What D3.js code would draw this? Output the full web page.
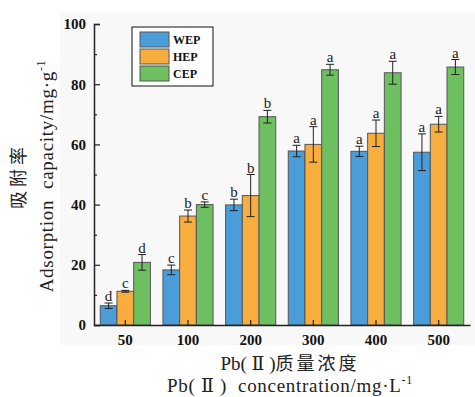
<!DOCTYPE html>
<html>
<head>
<meta charset="utf-8">
<script src="https://cdn.jsdelivr.net/npm/d3@7"></script>
<style>
  body { margin: 0; background: #fff; }
  svg { display: block; }
</style>
</head>
<body>
<div id="chart"></div>
<script>
// concentrations (mg/L)
const groups = ["50", "100", "200", "300", "400", "500"];
const series = ["WEP", "HEP", "CEP"];
const colors = ["#4a9dd8", "#f8ae3f", "#6dbf5f"];

const wepVal = [6.4, 18.3, 39.9, 57.8, 57.7, 57.4];
const hepVal = [11.2, 36.2, 43.0, 60.0, 63.7, 66.7];
const cepVal = [20.8, 40.0, 69.2, 84.8, 83.8, 85.7];

const wepErr = [0.9, 1.6, 1.9, 1.9, 1.7, 6.1];
const hepErr = [0.3, 2.0, 7.0, 5.9, 4.4, 2.6];
const cepErr = [2.6, 0.9, 2.1, 1.8, 3.8, 2.5];

const wepSig = ["d", "c", "b", "a", "a", "a"];
const hepSig = ["c", "b", "b", "a", "a", "a"];
const cepSig = ["d", "c", "b", "a", "a", "a"];

const yTicks = [0, 20, 40, 60, 80, 100];

const vals = [wepVal, hepVal, cepVal];
const errs = [wepErr, hepErr, cepErr];
const sigs = [wepSig, hepSig, cepSig];

const rows = [];
groups.forEach((g, gi) => series.forEach((s, si) => {
  rows.push({group: g, series: s, si, value: vals[si][gi], err: errs[si][gi], sig: sigs[si][gi]});
}));

const width = 475, height = 397;
const serif = "'Liberation Serif', 'DejaVu Serif', serif";
const cjk = "'Noto Sans CJK SC', sans-serif";

const svg = d3.select("#chart").append("svg")
  .attr("width", width).attr("height", height);

// light panel behind plot
svg.append("rect")
  .attr("x", 60).attr("y", 12).attr("width", 415).attr("height", 333)
  .attr("fill", "#f8f8f8");

const x = d3.scaleBand().domain(groups).range([94, 470]).paddingInner(0.2).paddingOuter(0.1);
const xs = d3.scaleBand().domain(series).range([0, x.bandwidth()]);
const y = d3.scaleLinear().domain([0, 100]).range([325, 24]);

// bars
const g = svg.append("g");
g.selectAll("rect.bar")
  .data(rows)
  .join("rect")
    .attr("class", "bar")
    .attr("x", d => x(d.group) + xs(d.series))
    .attr("y", d => y(d.value))
    .attr("width", xs.bandwidth())
    .attr("height", d => y(0) - y(d.value))
    .attr("fill", d => colors[d.si])
    .attr("stroke", "#555")
    .attr("stroke-width", 1);

// error bars
const eb = g.selectAll("g.err")
  .data(rows)
  .join("g")
    .attr("class", "err")
    .attr("transform", d => `translate(${x(d.group) + xs(d.series) + xs.bandwidth() / 2},0)`)
    .attr("stroke", "#222")
    .attr("stroke-width", 1);
eb.append("line")
  .attr("y1", d => y(d.value + d.err)).attr("y2", d => y(d.value - d.err));
eb.append("line")
  .attr("x1", -4).attr("x2", 4)
  .attr("y1", d => y(d.value + d.err)).attr("y2", d => y(d.value + d.err));
eb.append("line")
  .attr("x1", -4).attr("x2", 4)
  .attr("y1", d => y(d.value - d.err)).attr("y2", d => y(d.value - d.err));

// significance letters
g.selectAll("text.sig")
  .data(rows)
  .join("text")
    .attr("class", "sig")
    .attr("x", d => x(d.group) + xs(d.series) + xs.bandwidth() / 2)
    .attr("y", d => y(d.value + d.err) - 2)
    .attr("text-anchor", "middle")
    .attr("font-family", serif)
    .attr("font-size", 15)
    .attr("fill", "#222")
    .text(d => d.sig);

// axes
const yAxis = svg.append("g")
  .attr("transform", `translate(94,0)`)
  .call(d3.axisLeft(y).tickValues(yTicks).tickSize(-6).tickPadding(8));
svg.append("g")
  .attr("transform", `translate(94,0)`)
  .call(d3.axisLeft(y).tickValues([10, 30, 50, 70, 90]).tickSize(-3).tickFormat(""))
  .call(s => s.select(".domain").remove());

const xAxis = svg.append("g")
  .attr("transform", `translate(0,${y(0)})`)
  .call(d3.axisBottom(x).tickSize(-5).tickPadding(6).tickSizeOuter(0));

[yAxis, xAxis].forEach(a => {
  a.selectAll("text")
    .attr("font-family", serif)
    .attr("font-size", 15)
    .attr("font-weight", "bold")
    .attr("fill", "#111");
});
svg.selectAll(".domain").attr("stroke", "#222").attr("stroke-width", 1.5);
svg.selectAll(".tick line").attr("stroke", "#222").attr("stroke-width", 1.2);
xAxis.selectAll(".tick text").attr("dy", "0.9em");

// legend
const lg = svg.append("g").attr("transform", "translate(132,27)");
lg.append("rect")
  .attr("width", 81).attr("height", 59)
  .attr("fill", "#fff").attr("stroke", "#111").attr("stroke-width", 1);
series.forEach((s, i) => {
  lg.append("rect")
    .attr("x", 8).attr("y", 5 + i * 17)
    .attr("width", 29).attr("height", 15)
    .attr("fill", colors[i]).attr("stroke", "#555");
  lg.append("text")
    .attr("x", 41).attr("y", 17 + i * 17)
    .attr("font-family", serif)
    .attr("font-size", 12)
    .attr("font-weight", "bold")
    .attr("fill", "#111")
    .text(s);
});

// y axis titles
const yt = svg.append("g").attr("transform", "translate(0,176) rotate(-90)");
yt.append("text")
  .attr("x", 0).attr("y", 25)
  .attr("text-anchor", "middle")
  .attr("font-family", cjk)
  .attr("font-size", 18)
  .attr("letter-spacing", 4)
  .attr("fill", "#222")
  .text("吸附率");
const ye = yt.append("text")
  .attr("x", 0).attr("y", 53)
  .attr("text-anchor", "middle")
  .attr("font-family", serif)
  .attr("font-size", 19)
  .attr("letter-spacing", 0.7)
  .attr("fill", "#222")
  .attr("xml:space", "preserve")
  .text("Adsorption  capacity/mg·g");
ye.append("tspan").attr("font-size", 12).attr("dy", -8).text("-1");

// x axis titles
const xt1 = svg.append("text")
  .attr("x", 290).attr("y", 370)
  .attr("text-anchor", "middle")
  .attr("font-size", 19)
  .attr("fill", "#222");
xt1.append("tspan").attr("font-family", serif).text("Pb( Ⅱ )");
xt1.append("tspan").attr("font-family", cjk).attr("font-size", 18).attr("letter-spacing", 3).text("质量浓度");

const xt2 = svg.append("text")
  .attr("x", 290).attr("y", 392)
  .attr("text-anchor", "middle")
  .attr("font-family", serif)
  .attr("font-size", 19)
  .attr("letter-spacing", 0.7)
  .attr("fill", "#222")
  .attr("xml:space", "preserve")
  .text("Pb( Ⅱ )  concentration/mg·L");
xt2.append("tspan").attr("font-size", 12).attr("dy", -8).text("-1");
</script>
</body>
</html>
